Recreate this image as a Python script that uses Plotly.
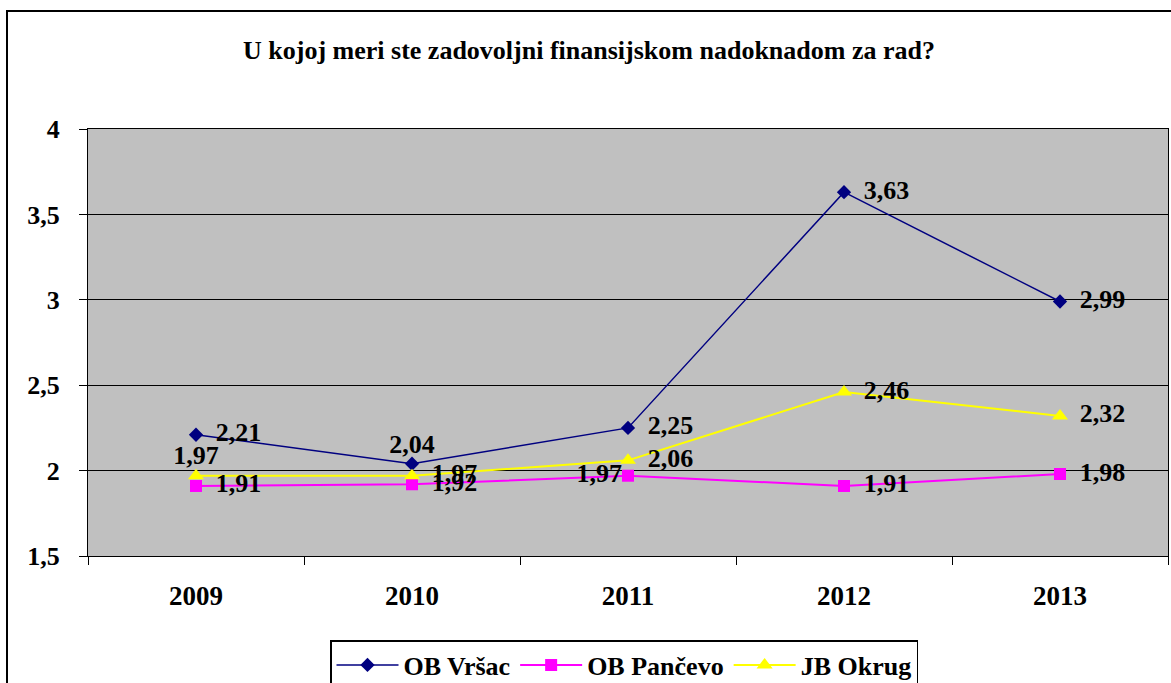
import plotly.graph_objects as go

# ---- data ----
years = ["2009", "2010", "2011", "2012", "2013"]
vrsac = [2.21, 2.04, 2.25, 3.63, 2.99]
pancevo = [1.91, 1.92, 1.97, 1.91, 1.98]
okrug = [1.97, 1.97, 2.06, 2.46, 2.32]
series_names = ["OB Vršac", "OB Pančevo", "JB Okrug"]
y_ticks = [1.5, 2, 2.5, 3, 3.5, 4]
title_text = "U kojoj meri ste zadovoljni finansijskom nadoknadom za rad?"

# ---- styles ----
FONT = "Liberation Serif"
W, H = 1171, 683
L, R, T, B = 88, 3, 129, 127
PW, PH = W - L - R, H - T - B

def fmt(v):
    return f"{v:.2f}".replace(".", ",")

# (name, values, color, symbol, marker size, line width, label positions, label offset sizes)
series = [
    (series_names[0], vrsac, "#000080", "diamond", 11, 1.5,
     ["middle right", "top center", "middle right", "middle right", "middle right"],
     [30, 6, 30, 30, 30]),
    (series_names[1], pancevo, "#FF00FF", "square", 12, 2,
     ["middle right", "middle right", "middle left", "middle right", "middle right"],
     [30, 30, 8, 30, 30]),
    (series_names[2], okrug, "#FFFF00", "triangle-up", 14, 2,
     ["top center", "middle right", "middle right", "middle right", "middle right"],
     [6, 30, 30, 30, 30]),
]

fig = go.Figure()
for name, vals, color, sym, msize, lw, pos, offs in series:
    fig.add_trace(go.Scatter(
        x=years, y=vals, name=name, mode="lines+markers",
        line=dict(color=color, width=lw),
        marker=dict(symbol=sym, size=msize, color=color, line=dict(width=0)),
        cliponaxis=False,
    ))
for name, vals, color, sym, msize, lw, pos, offs in series:
    fig.add_trace(go.Scatter(
        x=years, y=vals, mode="markers+text", text=[fmt(v) for v in vals],
        textposition=pos, showlegend=False, hoverinfo="skip",
        marker=dict(size=offs, color="rgba(0,0,0,0)", line=dict(width=0)),
        textfont=dict(family=FONT, size=26, color="black", weight="bold"),
        cliponaxis=False,
    ))

# outer chart border
fig.add_shape(type="rect", xref="paper", yref="paper",
              x0=(7 - L) / PW, x1=(1180 - L) / PW,
              y0=(H - B - 720) / PH, y1=(H - B - 11) / PH,
              line=dict(color="black", width=2), layer="above")

fig.update_layout(
    width=W, height=H,
    margin=dict(l=L, r=R, t=T, b=B, autoexpand=False),
    paper_bgcolor="white", plot_bgcolor="#C0C0C0",
    separators=",.",
    font=dict(family=FONT, size=26, color="black", weight="bold"),
    title=dict(text=title_text, x=0.503, xref="container", xanchor="center",
               y=1 - 50 / H, yref="container", yanchor="middle",
               font=dict(family=FONT, size=26, color="black", weight="bold")),
    showlegend=True,
    legend=dict(orientation="h", x=(624 - L) / PW, xanchor="center",
                y=(H - B - 640) / PH, yanchor="top",
                bordercolor="black", borderwidth=1.5, bgcolor="white",
                font=dict(family=FONT, size=26, color="black", weight="bold"),
                itemwidth=62),
    xaxis=dict(type="category", range=[-0.5, 4.5], tickson="boundaries",
               ticks="outside", ticklen=8,
               tickcolor="black", showline=True, linecolor="black", linewidth=1,
               mirror=True, showgrid=False, ticklabelstandoff=16,
               tickfont=dict(family=FONT, size=27, color="black", weight="bold")),
    yaxis=dict(range=[1.5, 4], tickvals=y_ticks, ticks="outside", ticklen=8,
               tickcolor="black", showline=True, linecolor="black", linewidth=1,
               mirror=True, showgrid=True, gridcolor="black", gridwidth=1,
               zeroline=False, ticklabelstandoff=14,
               tickfont=dict(family=FONT, size=26, color="black", weight="bold")),
)

fig.write_html("out.html", config={"displayModeBar": False},
               post_script="document.body.style.margin='0';document.body.style.overflow='hidden';")
